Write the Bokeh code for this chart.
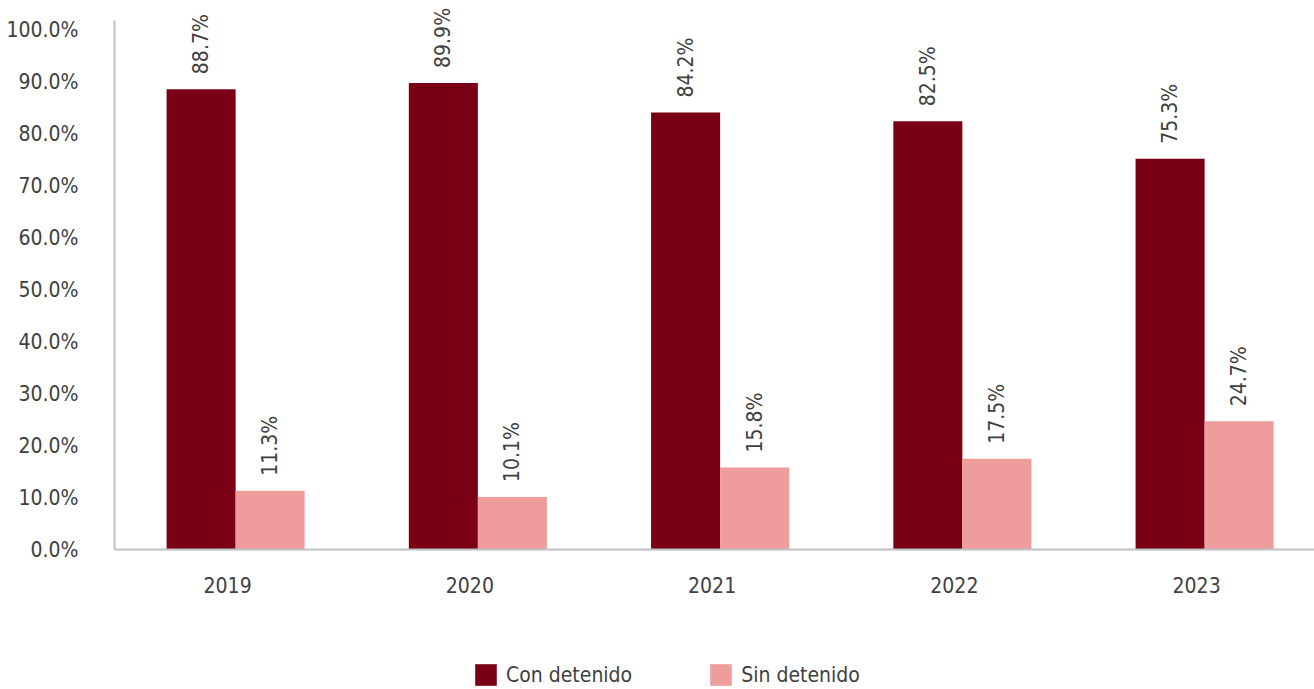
from bokeh.plotting import figure
from bokeh.models import ColumnDataSource, FixedTicker, Legend, LegendItem, Range1d, Span
from bokeh.core.properties import value
from bokeh.embed import file_html
from bokeh.resources import INLINE
import math

years = ["2019", "2020", "2021", "2022", "2023"]
con_detenido = [88.7, 89.9, 84.2, 82.5, 75.3]
sin_detenido = [11.3, 10.1, 15.8, 17.5, 24.7]
y_ticks = [0, 10, 20, 30, 40, 50, 60, 70, 80, 90, 100]

FONT = "DejaVu Sans Condensed"
FS = "21px"
TXT = "#404040"
DARK = "#7A0015"
PINK = "#EE9C9C"
AXIS = "#BFBFC6"

bw = 0.285
xs = list(range(len(years)))
shift = 8 / 242.25
src = ColumnDataSource(dict(
    x=xs,
    con=con_detenido,
    sin=sin_detenido,
    con_x=[x - bw / 2 for x in xs],
    sin_x=[x + bw / 2 for x in xs],
    lbl_x=[x - shift for x in xs],
    zero=[0] * len(xs),
    year=years,
    con_lbl=[f"{v:.1f}%" for v in con_detenido],
    sin_lbl=[f"{v:.1f}%" for v in sin_detenido],
))

p = figure(width=1314, height=689, output_backend="svg", toolbar_location=None,
           x_range=Range1d(-0.5, 4.4536), y_range=Range1d(-26.97, 105.78),
           min_border_left=114, min_border_right=0, min_border_top=0, min_border_bottom=0)
p.outline_line_color = None
p.grid.visible = False
p.xaxis.visible = False
p.background_fill_color = "white"

r1 = p.vbar(x="con_x", top="con", width=bw, bottom=0, source=src, fill_color=DARK, line_color=None)
r2 = p.vbar(x="sin_x", top="sin", width=bw, bottom=0, source=src, fill_color=PINK, line_color=None)

# baseline
p.add_layout(Span(location=0, dimension="width", line_color=AXIS, line_width=2))

for col_x, col_y, col_l in (("con_x", "con", "con_lbl"), ("sin_x", "sin", "sin_lbl")):
    p.text(x=col_x, y=col_y, text=col_l, source=src, angle=math.pi / 2,
           text_align="left", text_baseline="middle", y_offset=-15,
           text_font=value(FONT), text_font_size=FS, text_color=TXT)

# year labels
p.text(x="lbl_x", y="zero", text="year", source=src, text_align="center",
       text_baseline="top", y_offset=27, text_font=value(FONT), text_font_size=FS,
       text_color=TXT)

# y axis
ya = p.yaxis[0]
ya.ticker = FixedTicker(ticks=y_ticks)
ya.major_label_overrides = {t: f"{t:.1f}%" for t in y_ticks}
ya.bounds = (0, 102)
ya.axis_line_color = AXIS
ya.axis_line_width = 2
ya.major_tick_line_color = None
ya.minor_tick_line_color = None
ya.major_tick_out = 0
ya.major_label_standoff = 36
ya.major_label_text_font = FONT
ya.major_label_text_font_size = FS
ya.major_label_text_color = TXT

legend = Legend(items=[LegendItem(label="Con detenido", renderers=[r1]),
                       LegendItem(label="Sin detenido", renderers=[r2])],
                orientation="horizontal", location=(358, 1),
                glyph_width=27, glyph_height=27, label_standoff=7, spacing=75,
                padding=0, margin=0, border_line_color=None, background_fill_alpha=0,
                label_text_font=FONT, label_text_font_size=FS, label_text_color=TXT)
p.add_layout(legend, "center")

open("out.html", "w").write(file_html(p, INLINE))
